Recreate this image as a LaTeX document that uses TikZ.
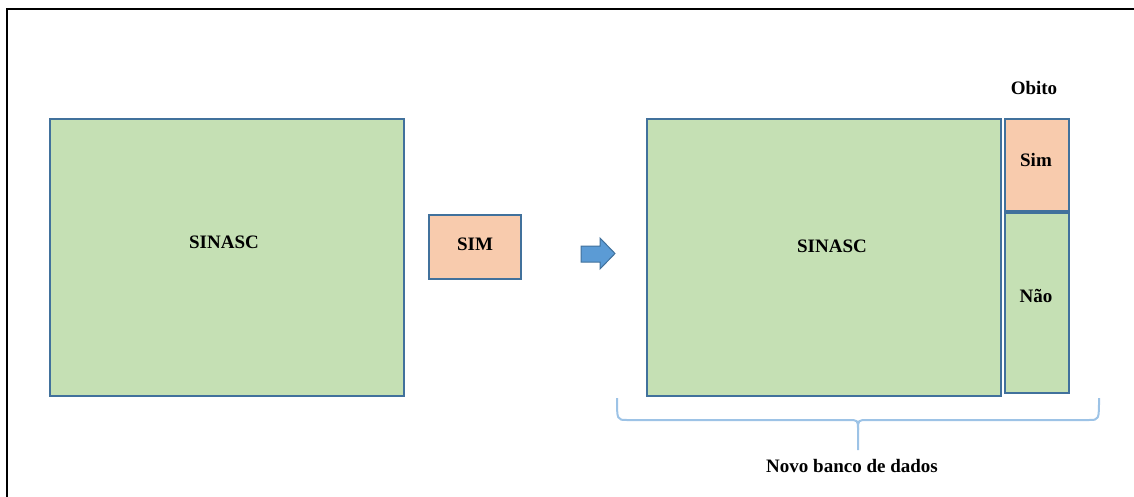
\documentclass[tikz,border=0pt]{standalone}
\usepackage{fontspec}
\setmainfont{Liberation Serif}
\definecolor{boxgreen}{HTML}{C5E0B4}
\definecolor{boxpeach}{HTML}{F8CBAD}
\definecolor{boxedge}{HTML}{41719C}
\definecolor{arrowblue}{HTML}{5B9BD5}
\definecolor{bracecol}{HTML}{9DC3E6}
\begin{document}
\begin{tikzpicture}[x=1pt,y=-1pt,
  gbox/.style={draw=boxedge,line width=1.8pt,fill=boxgreen},
  pbox/.style={draw=boxedge,line width=1.8pt,fill=boxpeach},
  lbl/.style={font=\bfseries\fontsize{19}{22}\selectfont,inner sep=0pt}]
\useasboundingbox (0,0) rectangle (1134,497);
% frame (only top and left visible)
\draw[line width=2.2pt,black] (7,500) -- (7,9) -- (1140,9);
% left
\draw[gbox] (50,119) rectangle (404,396);
\node[lbl] (sinascL) at (224,242) {SINASC};
\draw[pbox] (429,215) rectangle (521,279);
\node[lbl] (sim) at (475,244) {SIM};
% arrow
\draw[draw=boxedge,line width=1pt,fill=arrowblue,line join=miter]
  (581,246) -- (600,246) -- (600,238) -- (615,253.5) -- (600,269) -- (600,262) -- (581,262) -- cycle;
% right
\draw[gbox] (647,119) rectangle (1001,396);
\node[lbl] (sinascR) at (832,246) {SINASC};
\draw[pbox] (1005,119) rectangle (1069,211);
\node[lbl] (simR) at (1036,160) {Sim};
\draw[gbox] (1005,213) rectangle (1069,393);
\node[lbl] (nao) at (1036,296) {Não};
\node[lbl] (obito) at (1034,88) {Obito};
% brace
\draw[bracecol,line width=2pt] (617,398) .. controls (617,420) and (617,420) .. (627,420)
  -- (848,420) .. controls (858,420) and (858,420) .. (858,430) -- (858,450);
\draw[bracecol,line width=2pt] (1099,398) .. controls (1099,420) and (1099,420) .. (1089,420)
  -- (868,420) .. controls (858,420) and (858,420) .. (858,430);
\coordinate (tip) at (858,450);
\node[lbl] (novo) at (852,466) {Novo banco de dados};
\end{tikzpicture}
\end{document}
